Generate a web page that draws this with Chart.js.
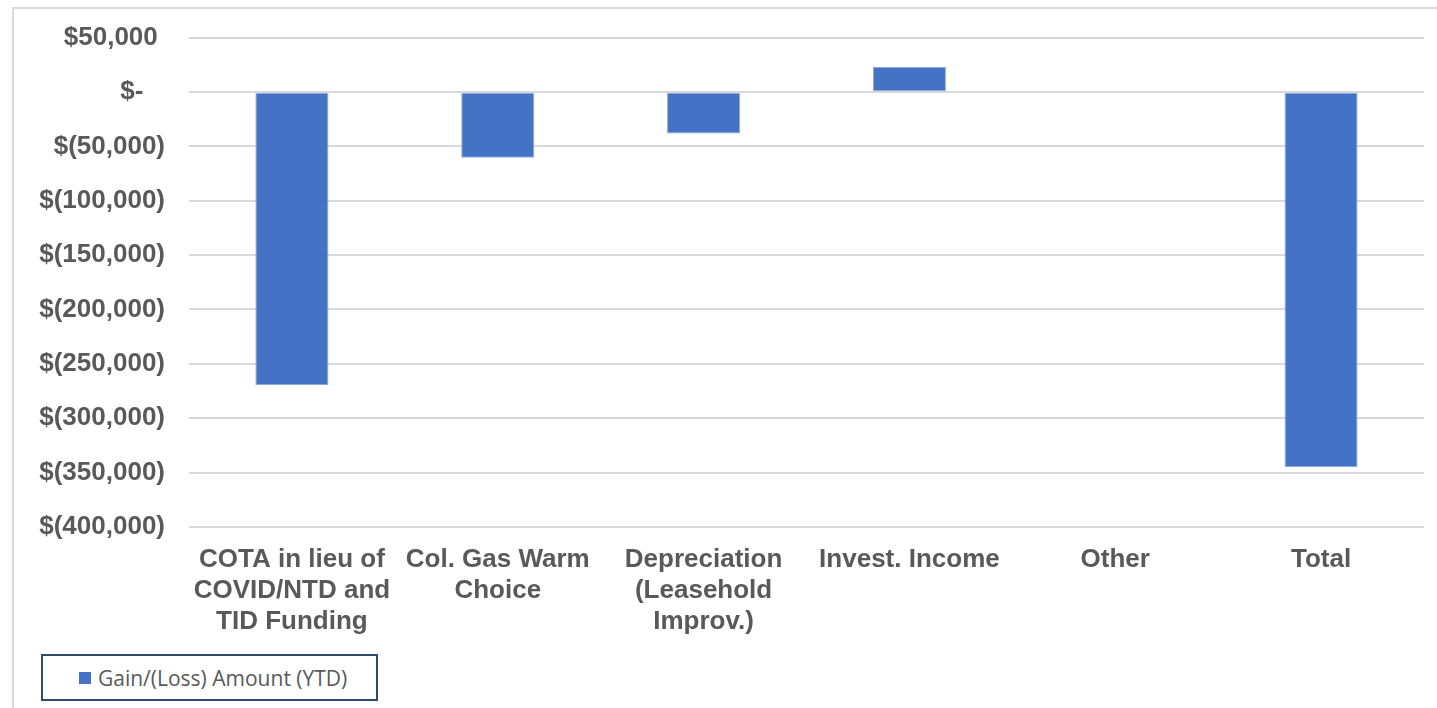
<!DOCTYPE html>
<html>
<head>
<meta charset="utf-8">
<script src="https://cdn.jsdelivr.net/npm/chart.js@4/dist/chart.umd.min.js"></script>
<style>
  html, body { margin: 0; padding: 0; background: #ffffff; overflow: hidden; }
  #frame {
    position: absolute; left: 12px; top: 7px; width: 1500px; height: 800px;
    border: 2px solid #d9d9d9; box-sizing: border-box;
  }
  #wrap { position: absolute; left: 0; top: -2px; width: 1437px; height: 710px; }
  #legend {
    position: absolute; left: 41px; top: 654px; width: 337px; height: 47px;
    border: 2px solid #2f4a6f; box-sizing: border-box; background: #ffffff;
    display: flex; align-items: center; justify-content: flex-start; padding-left: 36px;
    font-family: "Open Sans", "Noto Sans", sans-serif; font-size: 21px; color: #595959;
  }
  #legend .swatch { display: inline-block; width: 12px; height: 12px; margin-right: 7px; }
</style>
</head>
<body>
<div id="frame"></div>
<div id="wrap"><canvas id="chart" width="1437" height="710"></canvas></div>
<div id="legend"></div>
<script>
// Year-to-date gain / (loss) by driver
const categories = [
  ["COTA in lieu of", "COVID/NTD and", "TID Funding"],
  ["Col. Gas Warm", "Choice"],
  ["Depreciation", "(Leasehold", "Improv.)"],
  "Invest. Income",
  "Other",
  "Total"
];
const gainLoss = [-269700, -60500, -38200, 22900, 0, -345000];
const seriesLabel = "Gain/(Loss) Amount (YTD)";
const yTicks = [50000, 0, -50000, -100000, -150000, -200000, -250000, -300000, -350000, -400000];

const barColor = "#4472c4";
const textColor = "#595959";

// Accounting-style currency labels: negatives in parentheses, zero as a dash
function accounting(v) {
  if (v === 0) return "$-   ";
  const s = Math.abs(v).toLocaleString("en-US");
  return v < 0 ? "$(" + s + ")" : "$" + s + " ";
}

new Chart(document.getElementById("chart"), {
  type: "bar",
  data: {
    labels: categories,
    datasets: [{
      label: seriesLabel,
      data: gainLoss,
      backgroundColor: barColor,
      borderColor: "#8eaadb",
      borderWidth: 1,
      borderSkipped: false,
      barPercentage: 0.355,
      categoryPercentage: 1.0
    }]
  },
  options: {
    responsive: false,
    animation: false,
    layout: { padding: { top: 34, right: 13, bottom: 0, left: 0 } },
    plugins: { legend: { display: false }, tooltip: { enabled: false } },
    scales: {
      x: {
        grid: { display: false },
        border: { display: false },
        ticks: {
          color: textColor,
          font: { family: "Liberation Sans, Arial, sans-serif", size: 26, weight: "bold", lineHeight: 1.19 },
          padding: 9,
          maxRotation: 0,
          autoSkip: false
        },
        afterFit(scale) { scale.height = 181; }
      },
      y: {
        min: -400000,
        max: 50000,
        afterBuildTicks(scale) { scale.ticks = yTicks.map(v => ({ value: v })); },
        grid: { color: "#d9d9d9", lineWidth: 2, drawTicks: false, tickLength: 0 },
        border: { display: false },
        ticks: {
          color: textColor,
          font: { family: "Liberation Sans, Arial, sans-serif", size: 26, weight: "bold" },
          padding: 24,
          callback: (v) => accounting(v)
        },
        afterFit(scale) { scale.width = 189; }
      }
    }
  }
});

// Legend box built from the dataset
const lg = document.getElementById("legend");
const sw = document.createElement("span");
sw.className = "swatch";
sw.style.background = barColor;
lg.appendChild(sw);
lg.appendChild(document.createTextNode(seriesLabel));
</script>
</body>
</html>
